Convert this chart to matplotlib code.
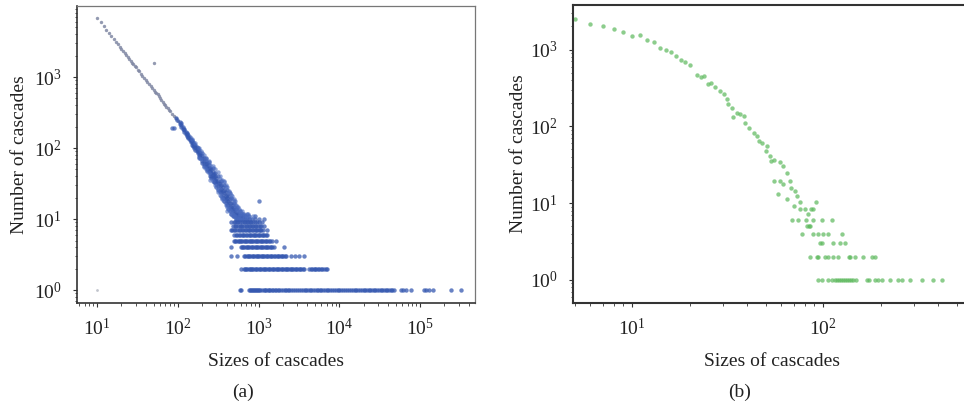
import matplotlib
matplotlib.use("Agg")
import matplotlib.pyplot as plt
import numpy as np

plt.rcParams['font.family'] = ['Liberation Serif', 'DejaVu Serif']
plt.rcParams['mathtext.fontset'] = 'stix'

# ---------------- Panel (a) data ----------------
# power-law head (gray points)
a_head_x = [10, 11, 12, 13, 14, 15, 16, 17, 18, 19, 20, 21, 22, 23, 24, 25, 26, 27, 28, 29, 30, 32, 33, 35,
            36, 38, 40, 42, 44, 46, 48, 50, 52, 54, 56, 58, 60, 62, 65, 68, 70, 72, 75, 78, 80, 85, 90, 95,
            100, 50]
a_head_y = [6760, 5890, 5190, 4620, 4150, 3760, 3420, 3130, 2880, 2670, 2480, 2310, 2160, 2020, 1900, 1790,
            1690, 1600, 1520, 1440, 1370, 1260, 1200, 1110, 1050, 970, 906, 845, 790, 742, 695, 660, 625,
            595, 570, 535, 505, 480, 450, 422, 400, 385, 365, 342, 330, 300, 282, 265, 240, 1600]
a_faint_x = [10]
a_faint_y = [1]

# dense cloud (blue points)
a_cloud_x = [85, 90, 95, 98, 105, 105, 110, 110, 110, 115, 115, 120, 120, 120, 125, 125, 130, 130, 130,
             135, 135, 135, 140, 140, 140, 145, 145, 150, 150, 150, 155, 155, 155, 160, 160, 160,
             165, 165, 165, 170, 170, 170, 175, 175, 175, 180, 180, 180, 180, 190, 190, 190,
             200, 200, 200, 200, 200, 210, 210, 210, 210, 220, 220, 220, 220, 230, 230, 230, 230,
             240, 240, 240, 240, 250, 250, 250, 250, 260, 260, 260, 260, 270, 270, 270, 270,
             280, 280, 280, 280, 290, 290, 290, 290, 300, 300, 300, 300, 315, 315, 315, 315, 315,
             330, 330, 330, 330, 345, 345, 345, 345, 345, 360, 360, 360, 360, 375, 375, 375, 375, 375,
             390, 390, 390, 390, 405, 405, 405, 405, 405, 420, 420, 420, 420, 440, 440, 440, 440, 440,
             460, 460, 460, 460, 460, 480, 480, 480, 480, 500, 500, 500, 500, 500, 520, 520, 520, 520,
             540, 540, 540, 540, 560, 560, 560, 580, 580, 580, 600, 600, 600, 640, 640, 640,
             680, 680, 720, 720, 760, 760, 820, 900, 900, 1000, 1150, 1010]
a_cloud_y = [190, 192, 262, 250, 232, 220, 212, 200, 222, 195, 185, 180, 170, 188, 166, 158, 156, 148, 165,
             145, 138, 152, 136, 128, 142, 128, 120, 121, 112, 130, 114, 106, 122, 108, 100, 115,
             102, 95, 110, 97, 90, 104, 92, 85, 99, 87, 80, 94, 76, 80, 73, 86,
             72, 66, 78, 84, 62, 66, 60, 72, 56, 60, 55, 66, 72, 56, 51, 61, 48,
             52, 47, 57, 63, 48, 44, 53, 40, 45, 41, 50, 38, 42, 38, 46, 52,
             39, 35, 43, 33, 36, 33, 40, 45, 34, 31, 38, 28, 32, 29, 35, 26, 40,
             29, 26, 32, 24, 27, 24, 30, 34, 21, 25, 22, 28, 20, 23, 20, 26, 30, 18,
             21, 19, 24, 17, 20, 18, 22, 26, 16, 18, 16, 21, 14, 17, 15, 19, 23, 13,
             15, 14, 17, 12, 20, 14, 13, 16, 11, 13, 12, 15, 17, 11, 12, 11, 14, 10,
             12, 10, 13, 15, 11, 10, 12, 10, 11, 13, 10, 12, 11, 10, 11, 12,
             10, 11, 10, 12, 10, 11, 10, 11, 10, 10, 10, 18]
# wider scatter of the cloud
a_spread_x = [150, 165, 180, 180, 195, 195, 210, 210, 225, 225, 240, 240, 250, 250, 270, 270, 290, 290,
              310, 310, 310, 330, 330, 330, 350, 350, 350, 370, 370, 370, 390, 390, 390, 410, 410, 410,
              430, 430, 430, 450, 450, 450, 470, 470, 470, 490, 490, 490, 510, 510, 510, 530, 530, 530,
              550, 550, 550, 570, 570, 590, 590, 590, 620, 620, 620, 650, 650, 700, 700, 740, 740, 780, 860]
a_spread_y = [135, 118, 100, 72, 90, 70, 80, 54, 70, 50, 66, 44, 58, 36, 56, 34, 50, 30,
              46, 27, 24, 40, 22, 37, 36, 20, 19, 33, 18, 35, 30, 16, 28, 28, 15, 13,
              25, 14, 24, 22, 13, 12, 21, 12, 19, 19, 11, 18, 18, 11, 16, 16, 10, 14,
              15, 10, 13, 14, 11, 13, 10, 12, 12, 13, 10, 11, 12, 11, 10, 12, 11, 10, 11]

# horizontal bands at small counts
a_band9_x = [460, 490, 510, 540, 560, 590, 620, 650, 680, 710, 740, 780, 810, 850, 900, 950, 1000, 1100]
a_band8_x = [480, 505, 530, 555, 580, 605, 630, 660, 690, 720, 750, 785, 820, 860, 900, 940, 980, 1030, 1080, 1160]
a_band7_x = [450, 470, 490, 515, 540, 565, 590, 615, 640, 670, 700, 730, 760, 790, 820, 855, 890, 925, 960,
             1000, 1040, 1080, 1130, 1280]
a_band6_x = [495, 517, 540, 565, 590, 615, 640, 665, 690, 720, 750, 780, 810, 840, 870, 905, 940, 975, 1010,
             1050, 1090, 1135, 1180, 1230, 1280]
a_band5_x = [495, 512, 530, 550, 570, 590, 610, 630, 650, 675, 700, 725, 750, 775, 800, 830, 860, 890, 920,
             955, 990, 1025, 1060, 1100, 1140, 1185, 1230, 1280, 1330, 1390, 1450, 1620]
a_band4_x = [450, 600, 620, 640, 665, 690, 715, 740, 770, 800, 830, 860, 890, 920, 955, 990, 1025, 1060, 1100,
             1140, 1185, 1230, 1275, 1320, 1370, 1420, 1480, 1550, 2060]
a_band3_x = [450, 540, 660, 685, 710, 735, 760, 790, 820, 850, 880, 915, 950, 985, 1020, 1060, 1100, 1140,
             1180, 1225, 1270, 1320, 1370, 1425, 1480, 1540, 1600, 1665, 1730, 1800, 1870, 1940, 2020, 2100,
             2200, 2500, 2800, 3200, 3650]
a_band2_x = [600, 660, 680, 700, 725, 750, 775, 800, 830, 860, 890, 920, 960, 1000, 1040, 1080, 1120, 1160,
             1205, 1250, 1300, 1350, 1400, 1450, 1505, 1560, 1620, 1680, 1740, 1800, 1875, 1950, 2025, 2100,
             2175, 2250, 2335, 2420, 2510, 2600, 2700, 2800, 2900, 3000, 3120, 3250, 3370, 3500, 3650,
             4200, 4400, 4600, 4800, 5000, 5200, 5400, 5650, 5900, 6150, 6400, 6750, 7100]
a_band1_x = [580, 600, 760, 780, 800, 825, 850, 875, 900, 925, 950, 975, 1000, 1050, 1100, 1150, 1200, 1250,
             1300, 1350, 1400, 1450, 1500, 1575, 1650, 1725, 1800, 1900, 2000, 2100, 2200, 2300, 2400, 2550,
             2700, 2850, 3000, 3150, 3300, 3500, 3700, 3900, 4100, 4300, 4500, 4750, 5000, 5250, 5500, 5750,
             6000, 6300, 6600, 6950, 7300, 7650, 8000, 8500, 9000, 9500, 10000, 10500, 11000, 11700, 12500,
             13200, 14000, 14700, 15500, 16200, 17000, 18000, 19000, 20000, 21000, 22000, 23000, 24200,
             25500, 26700, 28000, 29500, 31000, 32500, 34000, 35700, 37500, 39200, 41000, 43000, 45000,
             48000, 58000, 62000, 66000, 77000, 113000, 120000, 128000, 144000, 243000, 323000]
a_band_levels = [9, 8, 7, 6, 5, 4, 3, 2, 1]

# ---------------- Panel (b) data ----------------
b_x = [5, 6, 7, 8, 9, 10, 11, 12, 13, 14, 15, 16, 17, 18, 19, 20, 21.8, 22.9, 23.8, 24.9, 25.8, 27.2,
       28.7, 30.1, 31.3, 31.9, 33.3, 35.3, 36.7, 33.9, 38.3, 39.1, 41.1, 43.4, 45.1, 46, 47.8, 50.8,
       50.4, 52.8, 53.5, 55, 59.6, 61.5, 64.5, 55.3, 59.5, 62, 67, 67.8, 71.3, 58.3, 64.6, 72.8, 75.9,
       91.8, 70, 75.9, 80.6, 86.5, 89, 83.8, 68.6, 74.3, 81.5, 89, 98.4, 112, 82.2, 84, 85.5,
       77.3, 89, 94.4, 100.5, 106.7, 125, 96.4, 98.4, 113, 123, 130,
       85.5, 92.7, 94.4, 102, 106.7, 113, 120, 136, 138, 147, 162, 180, 187,
       94.4, 98.4, 106.7, 111, 115, 118, 121, 124, 127, 130, 133, 136, 140, 144, 148, 169, 173, 187,
       195, 203, 224, 248, 258, 286, 329, 378, 419]
b_y = [2500, 2180, 2050, 1860, 1710, 1510, 1550, 1320, 1240, 1040, 980, 933, 820, 726, 683, 632, 464,
       442, 458, 361, 369, 328, 288, 261, 224, 193, 175, 151, 143, 134, 136, 112, 96, 83, 75, 64, 61,
       55, 48, 41, 35.5, 37, 34, 30.5, 25, 19.5, 19.5, 17.7, 19.5, 15.8, 14.5, 13.1, 11.3, 12.4, 10.2,
       10.2, 9.2, 8.4, 8.3, 8.3, 8.3, 7.2, 6, 6, 6, 6, 6, 6, 5, 5, 5,
       4, 4, 4, 4, 4, 4, 3, 3, 3, 3, 3,
       2, 2, 2, 2, 2, 2, 2, 2, 2, 2, 2, 2, 2,
       1, 1, 1, 1, 1, 1, 1, 1, 1, 1, 1, 1, 1, 1, 1, 1, 1, 1,
       1, 1, 1, 1, 1, 1, 1, 1, 1]

# ---------------- Figure ----------------
fig = plt.figure(figsize=(9.64, 4.09), dpi=100)

ax1 = fig.add_axes([77/964, 1-303/409, (475-77)/964, (303-6)/409])
ax2 = fig.add_axes([573/964, 1-303/409, (972-573)/964, (303-5)/409])

blue = '#3558b0'
gray = '#8088a4'
green = '#5cb85c'

ax1.scatter(a_head_x, a_head_y, s=6, c=gray, alpha=0.85, linewidths=0)
ax1.scatter(a_faint_x, a_faint_y, s=4, c='#c0c4cc', linewidths=0)
ax1.scatter(a_cloud_x, a_cloud_y, s=10, c=blue, alpha=0.7, linewidths=0)
ax1.scatter(a_spread_x, a_spread_y, s=10, c='#4a6cc0', alpha=0.6, linewidths=0)
bands = [a_band9_x, a_band8_x, a_band7_x, a_band6_x, a_band5_x, a_band4_x, a_band3_x, a_band2_x, a_band1_x]
for lvl, bx in zip(a_band_levels, bands):
    ax1.scatter(bx, [lvl] * len(bx), s=10, c=blue, alpha=0.75, linewidths=0)

ax1.set_xscale('log')
ax1.set_yscale('log')
ax1.set_xlim(10**0.75, 10**5.68)
ax1.set_ylim(10**-0.18, 10**4.0)
ax1.set_xticks([10, 100, 1000, 10000, 100000])
ax1.set_yticks([1, 10, 100, 1000])

ax2.scatter(b_x, b_y, s=10, c=green, alpha=0.7, linewidths=0)
ax2.set_xscale('log')
ax2.set_yscale('log')
ax2.set_xlim(10**0.69, 10**(2 + (972-823)/191))
ax2.set_ylim(10**-0.3, 10**3.58)
ax2.set_xticks([10, 100])
ax2.set_yticks([1, 10, 100, 1000])

for ax in (ax1, ax2):
    ax.tick_params(which='major', direction='out', length=3, width=0.8, labelsize=14, pad=8, colors='#333333')
    ax.tick_params(which='minor', direction='out', length=1.8, width=0.6, colors='#333333')
    ax.tick_params(axis='both', labelcolor='#222222')
    ax.set_xlabel('Sizes of cascades', fontsize=14, color='#222222', labelpad=10)
ax1.set_ylabel('Number of cascades', fontsize=14, color='#222222', labelpad=4)
ax2.set_ylabel('Number of cascades', fontsize=14, color='#222222', labelpad=2)

for s in ['left', 'bottom']:
    ax1.spines[s].set_color('#333333')
    ax1.spines[s].set_linewidth(1.2)
for s in ['top', 'right']:
    ax1.spines[s].set_color('#777777')
    ax1.spines[s].set_linewidth(0.9)
for s in ['left', 'bottom', 'top']:
    ax2.spines[s].set_color('#333333')
    ax2.spines[s].set_linewidth(1.5)

fig.text(243/964, 1-392/409, '(a)', ha='center', va='center', fontsize=14, color='#222222')
fig.text(740/964, 1-392/409, '(b)', ha='center', va='center', fontsize=14, color='#222222')

fig.savefig('out.png', dpi=100)
